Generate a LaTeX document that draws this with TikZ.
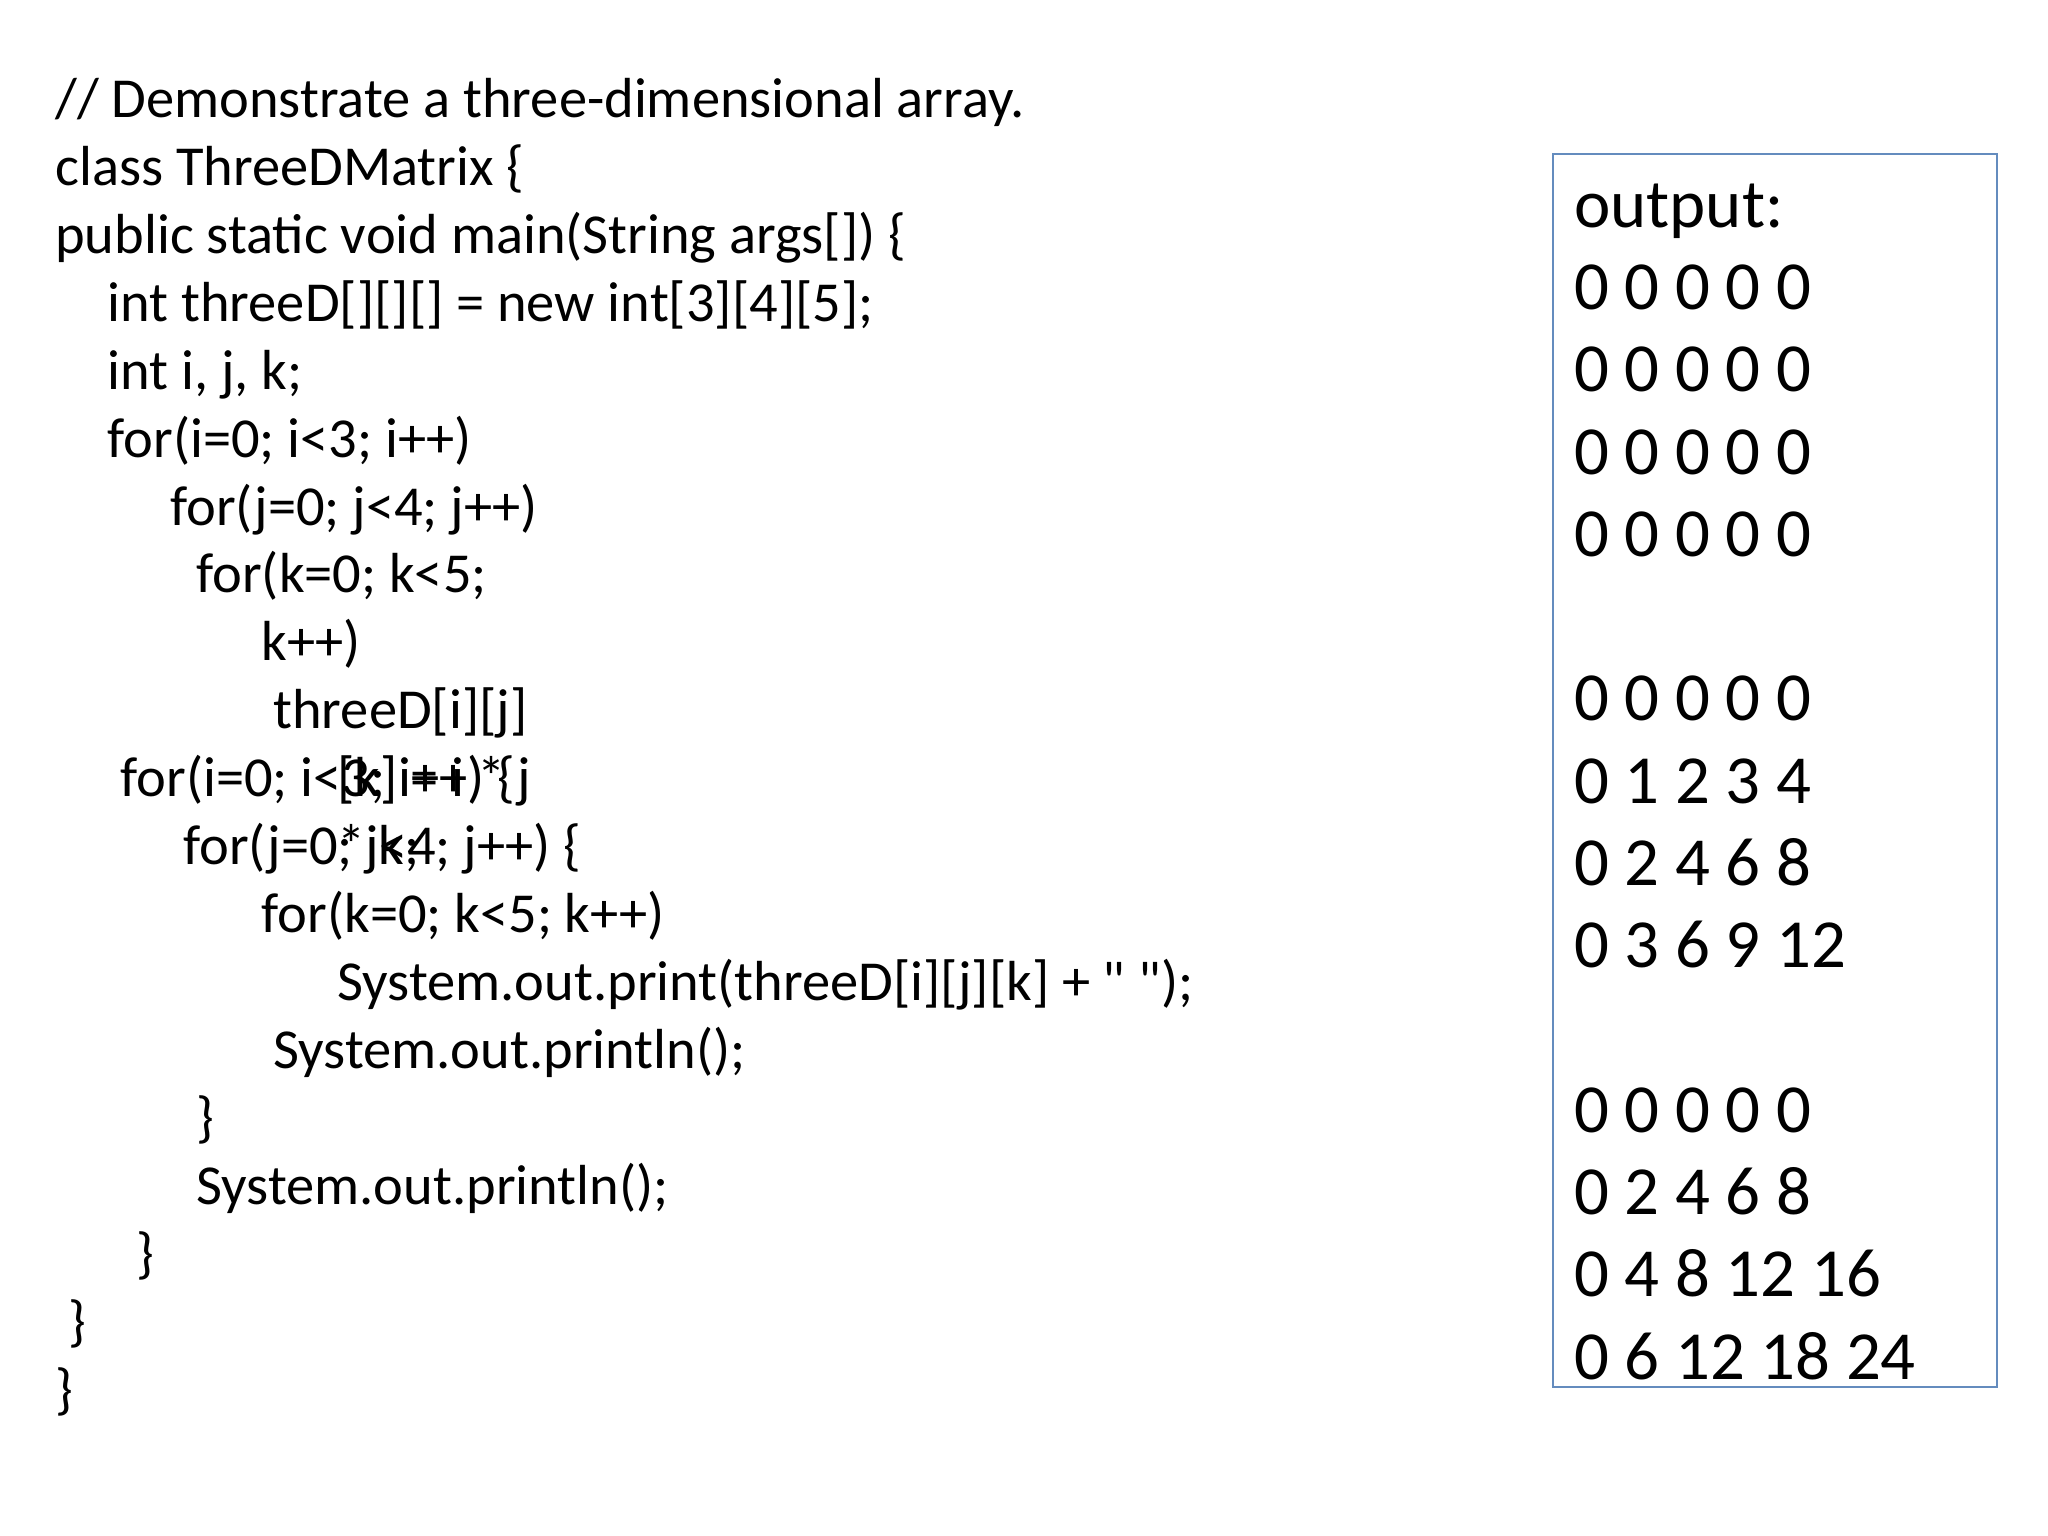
\documentclass[tikz,border=0pt]{standalone}
\usepackage{fontspec}
\setmainfont{Carlito}[Ligatures=TeXOff]
\begin{document}
\begin{tikzpicture}[x=0.02cm,y=-0.02cm,
 code/.style={anchor=base west,inner sep=0pt,font=\fontsize{24.6}{28}\selectfont},
 outl/.style={anchor=base west,inner sep=0pt,font=\fontsize{30}{34}\selectfont}]
\useasboundingbox (0,0) rectangle (1568,1176);
\node[code] (l1) at (42,90) {// Demonstrate a three-dimensional array.};
\node[code] (l2) at (42,142) {class ThreeDMatrix \{};
\node[code] (l3) at (42,194) {public static void main(String args[]) \{};
\node[code] (l4) at (82,246) {int threeD[][][] = new int[3][4][5];};
\node[code] (l5) at (82,298) {int i, j, k;};
\node[code] (l6) at (82,350) {for(i=0; i<3; i++)};
\node[code] (l7) at (130,402) {for(j=0; j<4; j++)};
\node[code] (l8) at (150,454) {for(k=0; k<5;};
\node[code] (l9) at (200,506) {k++)};
\node[code] (l10) at (209,558) {threeD[i][j]};
\node[code] (l11) at (92,610) {for(i=0; i<3; i++) \{};
\node[code] (l11b) at (258,610) {[k] = i * j};
\node[code] (l12) at (140,662) {for(j=0; j<4; j++) \{};
\node[code] (l12b) at (258,662) {* k;};
\node[code] (l13) at (200,714) {for(k=0; k<5; k++)};
\node[code] (l14) at (258,766) {System.out.print(threeD[i][j][k] + \char34\ \char34);};
\node[code] (l15) at (209,818) {System.out.println();};
\node[code] (l16) at (150,870) {\}};
\node[code] (l17) at (150,922) {System.out.println();};
\node[code] (l18) at (104,974) {\}};
\node[code] (l19) at (52,1026) {\}};
\node[code] (l20) at (42,1078) {\}};
\draw[draw={rgb,255:red,100;green,140;blue,190},line width=1.2pt] (1189,118) rectangle (1529,1062);
\foreach \t/\y [count=\n] in {output:/174,0 0 0 0 0/237,0 0 0 0 0/300,0 0 0 0 0/363,0 0 0 0 0/426,
 0 0 0 0 0/552,0 1 2 3 4/615,0 2 4 6 8/678,0 3 6 9 12/741,
 0 0 0 0 0/867,0 2 4 6 8/930,0 4 8 12 16/993,0 6 12 18 24/1056}
 \node[outl] (o\n) at (1205,\y) {\t};
\end{tikzpicture}
\end{document}
